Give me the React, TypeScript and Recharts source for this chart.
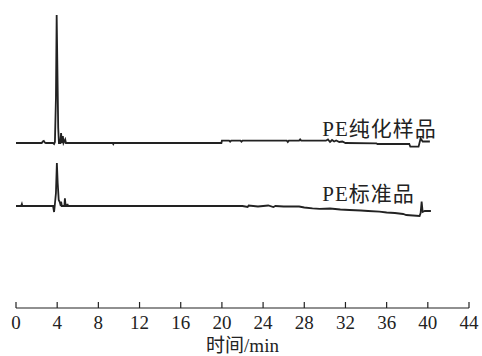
import { LineChart, Line, XAxis, YAxis, ReferenceDot } from 'recharts';

// 纯化样品 (upper trace): retention time (min) / detector signal (offset units)
const sampleTime = [
  0, 2.5, 2.6, 2.7, 2.8, 2.9, 3.6, 3.7, 3.78, 3.88, 3.95, 4.02, 4.1, 4.17,
  4.3, 4.38, 4.45, 4.55, 4.62, 4.78, 4.85, 9.4, 9.45, 9.5, 19.95, 20.0,
  20.7, 20.8, 20.9, 21.8, 21.9, 22.0, 26.3, 26.4, 26.5, 27.5, 27.6, 27.7,
  30.1, 30.3, 30.5, 30.7, 30.9, 31.1, 31.4, 31.7, 32.0, 35.0, 35.1, 38.2,
  38.3, 39.1, 39.3, 39.5, 40.2,
];
const sampleSignal = [
  165, 165, 166.5, 167, 165.5, 165, 165, 164, 166, 210, 293, 240, 180, 165,
  165, 175, 165, 172, 165, 168.5, 165, 165, 164, 165, 165, 167.3,
  167.3, 166.3, 167.3, 167.3, 166.3, 167.3, 167.3, 166, 167.3, 167.3, 168.5, 167.3,
  167.3, 168.5, 166, 168, 166.5, 167.5, 166, 166.5, 165, 164.7, 164, 164,
  161.3, 161.3, 169.5, 166.5, 166.5,
];

// 标准品 (lower trace)
const standardTime = [
  0, 0.5, 0.57, 0.62, 3.6, 3.7, 3.76, 3.88, 3.97, 4.05, 4.15, 4.25, 4.35,
  4.38, 4.45, 4.7, 4.75, 4.82, 4.95, 5.0, 5.05, 22.0, 22.5, 22.6, 23.5,
  24.5, 25.0, 25.2, 26.0, 27.5, 28.0, 28.8, 29.5, 30.5, 31.5, 32.4, 33.5,
  34.2, 35.3, 36.0, 36.8, 37.6, 37.9, 39.2, 39.3, 39.4, 39.5, 39.7, 40.3,
];
const standardSignal = [
  102, 102, 104, 102, 102, 96, 102, 115, 145, 125, 108, 106, 102,
  106.3, 102, 102, 109.7, 102, 102, 104, 102, 102, 101, 102.5, 101.5,
  102.5, 101, 102, 101.5, 101.5, 100.5, 99.7, 99.2, 99.5, 98.5, 98, 97.5,
  97, 96.3, 95.5, 95, 94, 93, 92, 95, 106.3, 96, 97, 97,
];

const xTicks = [0, 4, 8, 12, 16, 20, 24, 28, 32, 36, 40, 44];

const sampleData = sampleTime.map((t, i) => ({ time: t, value: sampleSignal[i] }));
const standardData = standardTime.map((t, i) => ({ time: t, value: standardSignal[i] }));

const FONT = "'Liberation Serif', 'Noto Sans CJK SC', serif";
const INK = '#222';

const AxisTick = ({ x, y, payload }: any) => (
  <g>
    <line x1={x} x2={x} y1={y - 6} y2={y} stroke={INK} strokeWidth={1.2} />
    <text x={x} y={y + 21} textAnchor="middle" fontFamily={FONT} fontSize={19} fill={INK}>
      {payload.value}
    </text>
  </g>
);

const traceLabel = (text: string) => (props: any) => {
  const { viewBox } = props;
  return (
    <text x={viewBox.x} y={viewBox.y} fontFamily={FONT} fontSize={21} letterSpacing={1} fill={INK}>
      {text}
    </text>
  );
};

export default function App() {
  return (
    <div style={{ position: 'absolute', left: 0, top: 0, background: '#fff' }}>
      <LineChart width={482} height={356} margin={{ top: 8, right: 13, left: 16, bottom: 0 }}>
        <XAxis
          dataKey="time"
          type="number"
          domain={[0, 44]}
          ticks={xTicks}
          allowDataOverflow
          height={48}
          tickSize={0}
          tickMargin={0}
          tickLine={false}
          tick={<AxisTick />}
          axisLine={{ stroke: INK, strokeWidth: 1.2 }}
          label={{ value: '时间/min', position: 'insideBottom', offset: 4, fontFamily: FONT, fontSize: 19, fill: INK }}
        />
        <YAxis type="number" domain={[0, 300]} hide allowDataOverflow />

        <Line data={sampleData} dataKey="value" type="linear" stroke={INK} strokeWidth={1.8}
          dot={false} isAnimationActive={false} />
        <Line data={standardData} dataKey="value" type="linear" stroke={INK} strokeWidth={1.8}
          dot={false} isAnimationActive={false} />

        <ReferenceDot x={29.75} y={172} r={0} ifOverflow="visible" label={{ content: traceLabel('PE纯化样品') }} />
        <ReferenceDot x={29.75} y={107} r={0} ifOverflow="visible" label={{ content: traceLabel('PE标准品') }} />
      </LineChart>
    </div>
  );
}
